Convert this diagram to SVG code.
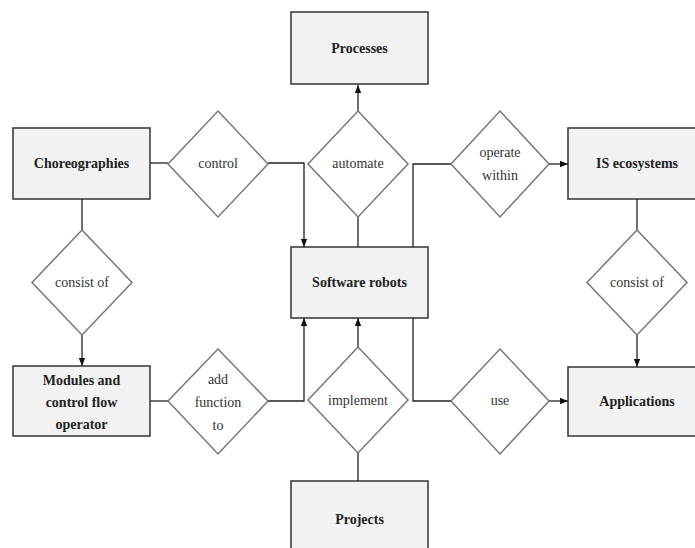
<svg xmlns="http://www.w3.org/2000/svg" width="695" height="548" viewBox="0 0 695 548">
<defs>
<marker id="arr" viewBox="0 0 10 10" refX="10" refY="5" markerWidth="8" markerHeight="8" markerUnits="userSpaceOnUse" orient="auto">
<path d="M0,1 L10,5 L0,9 Z" fill="#111"/>
</marker>
<style>
.box{fill:#f2f2f2;stroke:#333;stroke-width:1.5}
.dia{fill:#fff;stroke:#777;stroke-width:1.5}
text{font-family:'Liberation Serif','DejaVu Serif',serif;font-size:14px;text-anchor:middle}
.bl{font-weight:bold;fill:#222}
.dl{fill:#333}
.c{fill:none;stroke:#222;stroke-width:1.3}
.ca{fill:none;stroke:#222;stroke-width:1.3;marker-end:url(#arr)}
</style>
</defs>
<rect width="695" height="548" fill="#fff"/>
<g id="connectors">
<path class="c" d="M150,163 H168"/>
<path class="ca" d="M268,163 H304 V247"/>
<path class="ca" d="M358,111 V85"/>
<path class="c" d="M358,217 V247"/>
<path class="c" d="M413,247 V164 H451"/>
<path class="ca" d="M549,164 H568"/>
<path class="c" d="M413,318 V401 H451"/>
<path class="ca" d="M549,401 H568"/>
<path class="c" d="M637,199 V230"/>
<path class="ca" d="M637,335 V367"/>
<path class="c" d="M82,199 V230"/>
<path class="ca" d="M82,335 V366"/>
<path class="c" d="M150,401 H168"/>
<path class="ca" d="M268,401 H304 V318"/>
<path class="c" d="M358,481 V453"/>
<path class="ca" d="M358,347 V318"/>
</g>
<g id="processes"><rect class="box" x="291" y="12" width="137" height="72"/><text class="bl" x="359.5" y="53" font-family="Liberation Serif, serif">Processes</text></g>
<g id="choreographies"><rect class="box" x="13" y="128" width="137" height="71"/><text class="bl" x="81.5" y="168" font-family="Liberation Serif, serif">Choreographies</text></g>
<g id="software-robots"><rect class="box" x="291" y="247" width="137" height="71"/><text class="bl" x="359.5" y="287">Software robots</text></g>
<g id="is-ecosystems"><rect class="box" x="568" y="128" width="137" height="71"/><text class="bl" x="637" y="168">IS ecosystems</text></g>
<g id="modules"><rect class="box" x="13" y="366" width="137" height="70"/><text class="bl" x="81.5" y="385">Modules and</text><text class="bl" x="81.5" y="407">control flow</text><text class="bl" x="81.5" y="429">operator</text></g>
<g id="applications"><rect class="box" x="568" y="367" width="137" height="69"/><text class="bl" x="637" y="406">Applications</text></g>
<g id="projects"><rect class="box" x="291" y="481" width="137" height="80"/><text class="bl" x="359.5" y="524">Projects</text></g>
<g id="control"><path class="dia" d="M218,111 L268,164 L218,217 L168,164 Z"/><text class="dl" x="218" y="168">control</text></g>
<g id="automate"><path class="dia" d="M358,111 L408,164 L358,217 L308,164 Z"/><text class="dl" x="358" y="168">automate</text></g>
<g id="operate-within"><path class="dia" d="M500,111 L549,164 L500,217 L451,164 Z"/><text class="dl" x="500" y="157">operate</text><text class="dl" x="500" y="180">within</text></g>
<g id="consist-of-left"><path class="dia" d="M82,230 L132,282.5 L82,335 L32,282.5 Z"/><text class="dl" x="82" y="287">consist of</text></g>
<g id="consist-of-right"><path class="dia" d="M637,230 L687,282.5 L637,335 L587,282.5 Z"/><text class="dl" x="637" y="287">consist of</text></g>
<g id="add-function-to"><path class="dia" d="M218,349 L268,401 L218,454 L168,401 Z"/><text class="dl" x="218" y="384">add</text><text class="dl" x="218" y="407">function</text><text class="dl" x="218" y="430">to</text></g>
<g id="implement"><path class="dia" d="M358,347 L408,400 L358,453 L308,400 Z"/><text class="dl" x="358" y="405">implement</text></g>
<g id="use"><path class="dia" d="M500,349 L549,401 L500,454 L451,401 Z"/><text class="dl" x="500" y="405">use</text></g>
</svg>
